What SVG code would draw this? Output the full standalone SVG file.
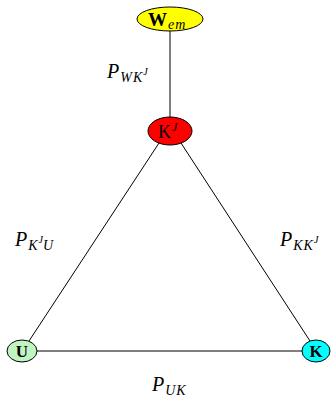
<svg xmlns="http://www.w3.org/2000/svg" width="332" height="398" viewBox="0 0 332 398">
<style>
.edge{stroke:#000;stroke-width:1;fill:none}
.node{stroke:#000;stroke-width:1}
.t{font-family:"Liberation Serif","DejaVu Serif",serif;fill:#000}
.lbl{font-family:"Liberation Serif","DejaVu Serif",serif;font-style:italic;fill:#000}
.sub{font-size:14px;letter-spacing:1px}
.sup{font-size:10px}
</style>
<rect width="332" height="398" fill="#fff"/>
<g id="connectors">
<line class="edge" x1="170" y1="31" x2="170" y2="117"/>
<line class="edge" x1="159" y1="143" x2="29" y2="341"/>
<line class="edge" x1="181" y1="143" x2="310" y2="341"/>
<line class="edge" x1="37" y1="351" x2="302" y2="351"/>
</g>
<g id="labels">
<text class="lbl" x="107" y="78" font-size="20">P<tspan class="sub" dx="1" dy="4">WK</tspan><tspan class="sup" dy="-7">J</tspan></text>
<text class="lbl" x="15" y="246" font-size="20">P<tspan class="sub" dx="1" dy="4">K</tspan><tspan class="sup" dy="-7">J</tspan><tspan class="sub" dy="7">U</tspan></text>
<text class="lbl" x="280" y="246" font-size="20">P<tspan class="sub" dx="1" dy="4">KK</tspan><tspan class="sup" dy="-7">J</tspan></text>
<text class="lbl" x="152" y="391" font-size="20">P<tspan class="sub" dx="1" dy="4">UK</tspan></text>
</g>
<g id="node-W">
<ellipse class="node" cx="170" cy="19" rx="33" ry="12" fill="#ffff00"/>
<text class="t" x="148" y="26" font-size="19" font-weight="bold">W<tspan class="lbl" font-weight="normal" font-size="14" dx="1" dy="3" letter-spacing="1">em</tspan></text>
</g>
<g id="node-KJ">
<ellipse class="node" cx="170" cy="131" rx="22" ry="14" fill="#ff0000"/>
<text class="t" x="158" y="138" font-size="18">K<tspan class="lbl" font-size="12" dx="1" dy="-7">J</tspan></text>
</g>
<g id="node-U">
<ellipse class="node" cx="22" cy="351" rx="15" ry="11" fill="#c0f5c0"/>
<text class="t" x="22" y="357" font-size="17" font-weight="bold" text-anchor="middle">U</text>
</g>
<g id="node-K">
<ellipse class="node" cx="316" cy="351" rx="14" ry="11" fill="#00ffff"/>
<text class="t" x="316" y="357" font-size="17" font-weight="bold" text-anchor="middle">K</text>
</g>
</svg>
